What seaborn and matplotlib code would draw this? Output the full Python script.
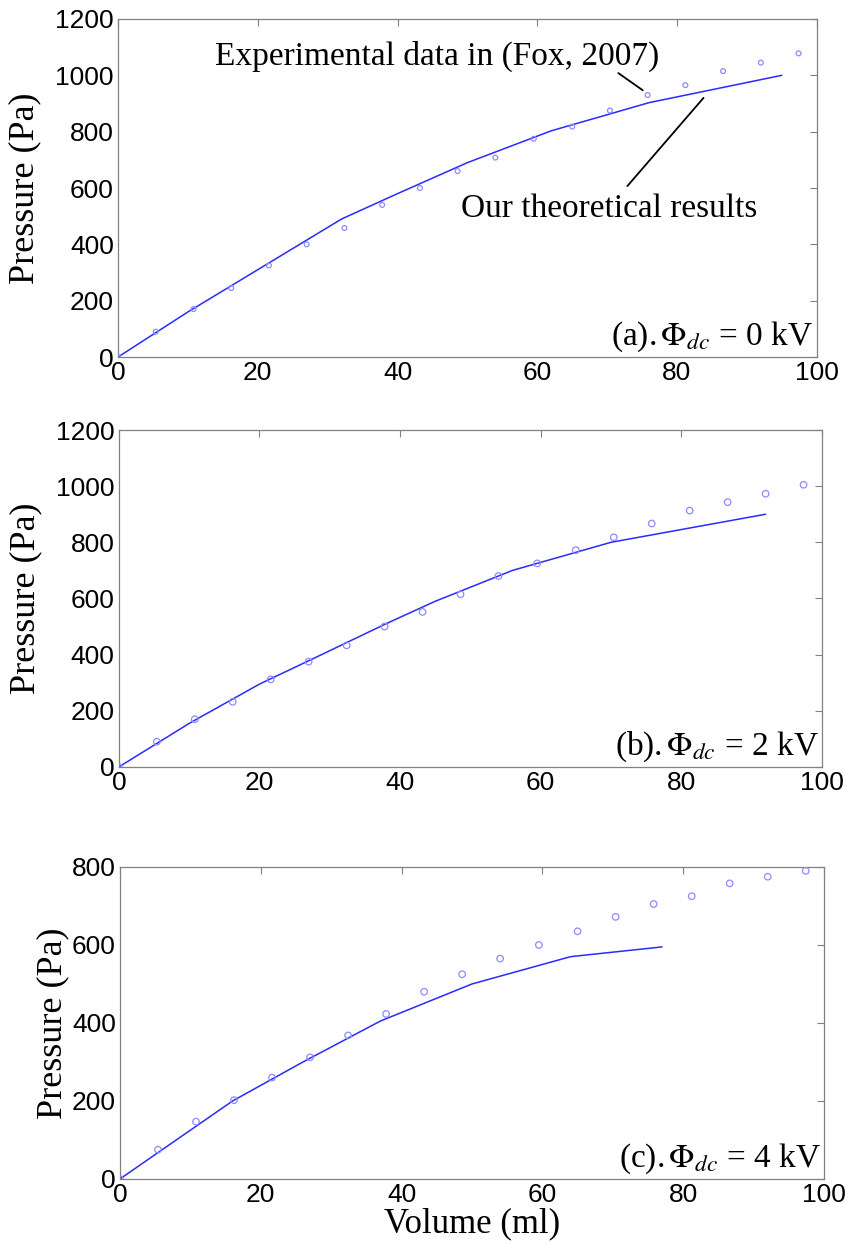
import numpy as np
import pandas as pd
import matplotlib
matplotlib.use("Agg")
import matplotlib.pyplot as plt
import seaborn as sns

# ---- data ----
exp_volume = [0, 5.4, 10.8, 16.2, 21.6, 27.0, 32.4, 37.8, 43.2, 48.6, 54.0,
              59.5, 65.0, 70.4, 75.8, 81.2, 86.6, 92.0, 97.4]
exp_p_a = [0, 90, 170, 245, 325, 400, 458, 540, 600, 660, 708, 775, 818, 875,
           930, 965, 1015, 1045, 1078]
exp_p_b = [0, 90, 170, 232, 312, 375, 433, 500, 552, 615, 680, 725, 772, 818,
           867, 913, 943, 973, 1005]
exp_p_c = [0, 75, 147, 202, 260, 312, 368, 423, 480, 525, 565, 600, 635, 672,
           705, 725, 758, 775, 790]

th_v_a = [0, 10, 20, 32, 40, 50, 62, 76, 95]
th_p_a = [0, 160, 310, 490, 580, 690, 803, 903, 1000]
th_v_b = [0, 10, 20, 28, 38, 45, 56, 70, 92]
th_p_b = [0, 155, 295, 390, 510, 590, 700, 800, 900]
th_v_c = [0, 16, 26, 37, 50, 64, 77]
th_p_c = [0, 200, 300, 405, 500, 570, 595]

panel_labels = [r"(a).$\,\Phi_{dc}$ = 0 kV", r"(b).$\,\Phi_{dc}$ = 2 kV", r"(c).$\,\Phi_{dc}$ = 4 kV"]
y_tops = [1200, 1200, 800]
x_ticks = [0, 20, 40, 60, 80, 100]

sns.set_theme(style="white")
plt.rcParams["font.family"] = ["Liberation Sans", "DejaVu Sans"]
plt.rcParams["mathtext.fontset"] = "stix"
plt.rcParams["text.color"] = "black"
plt.rcParams["axes.labelcolor"] = "black"

fig = plt.figure(figsize=(8.49, 12.41), dpi=100)
positions = [
    [0.139, 0.7123, 0.823, 0.2724],
    [0.140, 0.3820, 0.828, 0.2715],
    [0.1413, 0.0500, 0.8293, 0.2514],
]
exp_sets = [exp_p_a, exp_p_b, exp_p_c]
th_sets = [(th_v_a, th_p_a), (th_v_b, th_p_b), (th_v_c, th_p_c)]
marker_sizes = [12, 22, 22]
ylabel_pads = [10, 10, 2]

line_color = "#2a2aff"
mark_color = "#8c8cff"
serif = ["Liberation Serif", "DejaVu Serif"]

for i in range(3):
    ax = fig.add_axes(positions[i])
    dexp = pd.DataFrame({"v": exp_volume, "p": exp_sets[i]})
    dth = pd.DataFrame({"v": th_sets[i][0], "p": th_sets[i][1]})
    sns.lineplot(data=dth, x="v", y="p", ax=ax, color=line_color, linewidth=1.1)
    sns.scatterplot(data=dexp, x="v", y="p", ax=ax, marker="o", s=marker_sizes[i],
                    facecolors="none", edgecolor=mark_color, linewidth=0.9, zorder=3)
    ax.set_xlim(0, 100)
    ax.set_ylim(0, y_tops[i])
    ax.set_xticks(x_ticks)
    ax.set_yticks(np.arange(0, y_tops[i] + 1, 200))
    ax.tick_params(direction="in", length=5, width=0.8, color="#808080",
                   top=True, right=True, labelsize=19, pad=3, labelcolor="black")
    for sp in ax.spines.values():
        sp.set_color("#808080")
        sp.set_linewidth(0.9)
        sp.set_visible(True)
    ax.set_xlabel("")
    ax.set_ylabel("Pressure (Pa)", fontsize=26, family=serif, labelpad=ylabel_pads[i])
    ax.text(0.995, 0.01, panel_labels[i], transform=ax.transAxes, ha="right",
            va="bottom", fontsize=24, family=serif)
    if i == 0:
        ax.text(45.7, 1067, "Experimental data in (Fox, 2007)", ha="center",
                va="center", fontsize=24, family=serif)
        ax.annotate("", xy=(75.1, 947), xytext=(71.6, 1008), textcoords="data",
                    arrowprops=dict(arrowstyle="-", color="black", lw=1.3,
                                    shrinkA=0, shrinkB=0))
        ax.text(70.3, 525, "Our theoretical results", ha="center",
                va="center", fontsize=24, family=serif)
        ax.annotate("", xy=(83.8, 920), xytext=(72.9, 607), textcoords="data",
                    arrowprops=dict(arrowstyle="-", color="black", lw=1.3,
                                    shrinkA=0, shrinkB=0))
    if i == 2:
        ax.set_xlabel("Volume (ml)", fontsize=25, family=serif, labelpad=0)

fig.savefig("out.png", dpi=100)
